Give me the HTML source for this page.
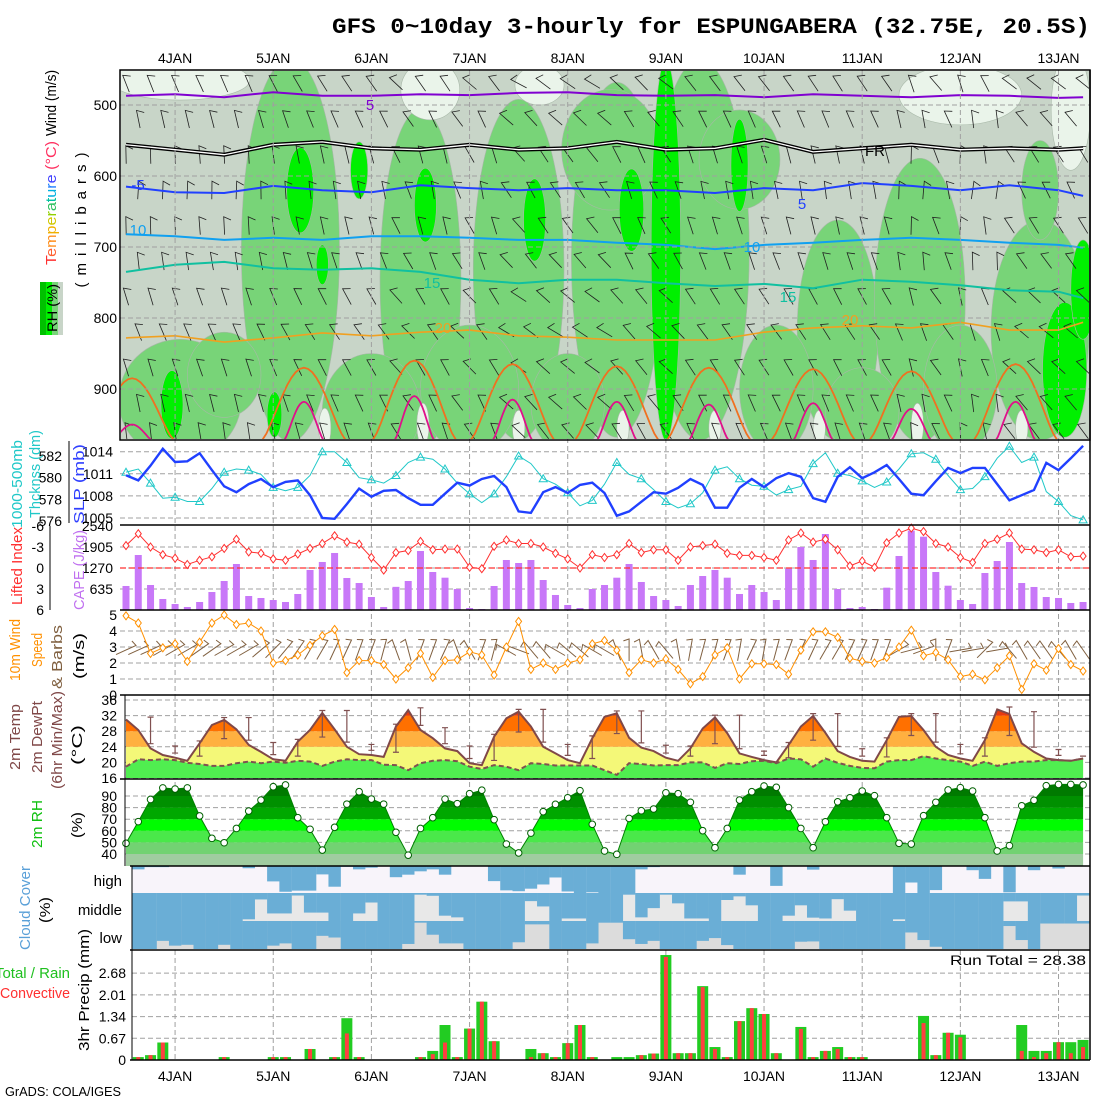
<!DOCTYPE html>
<html><head><meta charset="utf-8">
<style>
html,body{margin:0;padding:0;background:#fff;width:1100px;height:1100px;overflow:hidden}
svg{display:block;font-family:"Liberation Sans",sans-serif}
</style></head>
<body>
<svg id="chart" width="1100" height="1100" viewBox="0 0 1100 1100" xmlns="http://www.w3.org/2000/svg">
<defs>
  <clipPath id="clipP1"><rect x="121" y="71" width="968" height="368"/></clipPath>
</defs>
<text x="332" y="33" font-family="Liberation Mono, monospace" font-weight="bold" font-size="22" textLength="758" lengthAdjust="spacingAndGlyphs">GFS 0~10day 3-hourly for ESPUNGABERA (32.75E, 20.5S)</text>

<g id="p1bg" clip-path="url(#clipP1)"></g>
<g id="layer"></g>

<text transform="translate(56,103) rotate(-90)" text-anchor="middle" font-size="15" textLength="66" lengthAdjust="spacingAndGlyphs">Wind (m/s)</text>
<text transform="translate(56,203) rotate(-90)" text-anchor="middle" font-size="15" textLength="124" lengthAdjust="spacingAndGlyphs"><tspan fill="#ff3030">T</tspan><tspan fill="#ff6030">e</tspan><tspan fill="#ff9020">m</tspan><tspan fill="#f0b000">p</tspan><tspan fill="#d0c800">e</tspan><tspan fill="#90d000">r</tspan><tspan fill="#30c060">a</tspan><tspan fill="#00c0a0">t</tspan><tspan fill="#00b0e0">u</tspan><tspan fill="#2080ff">r</tspan><tspan fill="#4040ff">e</tspan><tspan fill="#ff3060"> (°C)</tspan></text>
<text transform="translate(86,220) rotate(-90)" text-anchor="middle" font-size="15" textLength="135" lengthAdjust="spacing">(millibars)</text>
<g>
  <rect x="40" y="282" width="6" height="53" fill="#00c000"/>
  <rect x="46" y="282" width="6" height="53" fill="#00f000"/>
  <rect x="52" y="282" width="6" height="53" fill="#78d478"/>
  <rect x="58" y="282" width="5" height="53" fill="#c8d5c8"/>
  <text transform="translate(57,308) rotate(-90)" text-anchor="middle" font-size="14" textLength="48" lengthAdjust="spacingAndGlyphs">RH (%)</text>
</g>
<text transform="translate(22,484) rotate(-90)" text-anchor="middle" font-size="15" fill="#20c8c8" textLength="88" lengthAdjust="spacingAndGlyphs">1000-500mb</text>
<text transform="translate(40,474) rotate(-90)" text-anchor="middle" font-size="15" fill="#20c8c8" textLength="88" lengthAdjust="spacingAndGlyphs">Thcknss (dm)</text>
<text transform="translate(84,484) rotate(-90)" text-anchor="middle" font-size="15" fill="#3040ff" textLength="80" lengthAdjust="spacingAndGlyphs">SLP (mb)</text>
<text transform="translate(22,566) rotate(-90)" text-anchor="middle" font-size="15" fill="#ff3030" textLength="78" lengthAdjust="spacingAndGlyphs">Lifted Index</text>
<text transform="translate(84,570) rotate(-90)" text-anchor="middle" font-size="15" fill="#c070f0" textLength="80" lengthAdjust="spacingAndGlyphs">CAPE (J/kg)</text>
<text transform="translate(20,650) rotate(-90)" text-anchor="middle" font-size="15" fill="#ff9000" textLength="62" lengthAdjust="spacingAndGlyphs">10m Wind</text>
<text transform="translate(42,650) rotate(-90)" text-anchor="middle" font-size="15" fill="#ff9000" textLength="34" lengthAdjust="spacingAndGlyphs">Speed</text>
<text transform="translate(62,657) rotate(-90)" text-anchor="middle" font-size="15" fill="#806040" textLength="64" lengthAdjust="spacingAndGlyphs">&amp; Barbs</text>
<text transform="translate(84,656) rotate(-90)" text-anchor="middle" font-size="15" textLength="46" lengthAdjust="spacingAndGlyphs">(m/s)</text>
<text transform="translate(20,737) rotate(-90)" text-anchor="middle" font-size="15" fill="#804848" textLength="66" lengthAdjust="spacingAndGlyphs">2m Temp</text>
<text transform="translate(42,737) rotate(-90)" text-anchor="middle" font-size="15" fill="#804848" textLength="72" lengthAdjust="spacingAndGlyphs">2m DewPt</text>
<text transform="translate(62,740) rotate(-90)" text-anchor="middle" font-size="15" fill="#804848" textLength="98" lengthAdjust="spacingAndGlyphs">(6hr Min/Max)</text>
<text transform="translate(82,745) rotate(-90)" text-anchor="middle" font-size="15" textLength="40" lengthAdjust="spacingAndGlyphs">(°C)</text>
<text transform="translate(42,824) rotate(-90)" text-anchor="middle" font-size="15" fill="#10c010" textLength="48" lengthAdjust="spacingAndGlyphs">2m RH</text>
<text transform="translate(82,825) rotate(-90)" text-anchor="middle" font-size="15" textLength="26" lengthAdjust="spacingAndGlyphs">(%)</text>
<text transform="translate(30,908) rotate(-90)" text-anchor="middle" font-size="15" fill="#5aa0d8" textLength="84" lengthAdjust="spacingAndGlyphs">Cloud Cover</text>
<text transform="translate(50,910) rotate(-90)" text-anchor="middle" font-size="15" textLength="26" lengthAdjust="spacingAndGlyphs">(%)</text>
<text x="122" y="886" text-anchor="end" font-size="15">high</text>
<text x="122" y="915" text-anchor="end" font-size="15">middle</text>
<text x="122" y="943" text-anchor="end" font-size="15">low</text>
<text transform="translate(89,990) rotate(-90)" text-anchor="middle" font-size="15" textLength="122" lengthAdjust="spacingAndGlyphs">3hr Precip (mm)</text>
<text x="70" y="978" text-anchor="end" font-size="15" fill="#20c020">Total / Rain</text>
<text x="70" y="998" text-anchor="end" font-size="15" fill="#ff3030" textLength="70" lengthAdjust="spacingAndGlyphs">Convective</text>
<text x="1086" y="965" text-anchor="end" font-size="14" textLength="136" lengthAdjust="spacingAndGlyphs">Run Total = 28.38</text>
<text x="5" y="1096" font-size="13" textLength="116" lengthAdjust="spacingAndGlyphs">GrADS: COLA/IGES</text>
</svg>
<script>
const NS='http://www.w3.org/2000/svg';
const dayLabels=['4JAN','5JAN','6JAN','7JAN','8JAN','9JAN','10JAN','11JAN','12JAN','13JAN'];
const slp=[1010.8,1010.1,1012.1,1014.4,1012.6,1012.7,1013.8,1011.5,1009.3,1008.5,1009.6,1010.3,1009.2,1009.9,1010.1,1008.1,1005.0,1004.9,1006.9,1009.0,1007.9,1008.7,1008.8,1007.7,1006.8,1006.8,1008.3,1009.8,1009.4,1010.3,1010.7,1009.2,1005.9,1005.7,1008.5,1009.2,1008.4,1009.5,1009.8,1008.4,1005.3,1005.9,1007.2,1008.5,1008.3,1009.1,1010.3,1009.5,1006.4,1006.4,1009.1,1010.3,1009.2,1010.4,1011.1,1010.6,1007.7,1007.2,1010.6,1011.9,1010.4,1011.2,1012.2,1010.3,1008.3,1008.1,1010.0,1011.8,1011.1,1011.8,1011.8,1009.6,1007.4,1008.1,1008.8,1012.5,1011.5,1013.1,1014.8];
const thick=[580.5,580.8,579.5,578.1,578.2,577.8,577.8,579.0,580.5,580.8,580.7,580.3,579.1,578.8,579.1,580.2,582.4,582.4,581.4,580.0,579.8,579.5,580.2,581.4,581.9,581.7,580.8,579.5,578.5,577.7,578.5,580.1,582.0,581.3,579.9,579.4,578.6,577.4,577.9,579.4,581.4,580.3,579.9,578.9,577.8,577.2,577.6,578.6,580.7,581.0,579.9,579.3,579.2,578.4,578.9,579.2,581.3,582.3,580.4,580.2,579.7,579.1,579.6,580.8,582.2,582.3,581.7,580.2,578.9,579.0,580.1,581.8,582.9,581.4,581.9,578.7,577.8,576.5,576.1];
const cape=[726,1663,756,333,181,91,242,544,877,1391,423,363,302,242,484,1210,1452,1724,968,816,393,91,700,877,1784,1149,977,635,60,30,726,1512,1421,1512,907,454,151,60,635,756,977,1391,847,423,302,121,756,1028,1210,977,484,756,544,302,1250,1905,1512,2298,635,60,91,30,675,1633,2400,2217,1149,735,302,181,1119,1482,2056,816,696,393,363,212,242];
const li=[-3.2,-4.9,-3.0,-1.9,-1.4,-0.5,-1.1,-1.6,-2.8,-4.1,-2.3,-2.1,-1.3,-1.1,-2.0,-2.8,-3.5,-4.6,-3.7,-3.4,-1.5,0.3,-2.2,-2.5,-3.8,-2.6,-2.7,-2.7,-0.1,0.1,-3.1,-4.0,-3.5,-3.5,-3.0,-2.1,-1.3,0.0,-1.9,-1.5,-1.9,-3.5,-2.2,-2.6,-2.6,-1.1,-3.0,-3.2,-3.4,-2.1,-1.8,-1.8,-1.5,-1.1,-4.0,-5.0,-3.7,-4.1,-2.6,-0.3,-1.0,-0.1,-3.6,-5.0,-5.7,-5.2,-3.5,-3.0,-1.5,-0.8,-3.5,-4.1,-5.0,-2.7,-2.6,-2.2,-2.6,-1.6,-1.7];
const wspd=[4.95,4.5,2.6,2.95,3.2,2.1,3.3,4.5,5.0,4.4,4.5,4.0,2.0,2.15,2.5,3.1,3.7,4.1,1.4,2.15,2.15,1.9,1.0,1.7,2.6,1.1,2.15,2.2,2.7,2.5,1.25,3.0,4.6,1.6,2.0,1.6,2.0,2.2,3.2,3.4,2.8,1.4,2.2,2.0,2.25,1.6,0.7,1.15,2.5,2.95,1.0,1.95,1.95,1.9,1.3,2.8,3.95,3.95,3.6,2.3,2.1,2.0,2.35,3.0,4.05,2.45,2.65,2.2,1.15,1.3,0.95,1.7,2.45,0.35,1.95,1.55,2.9,1.9,1.5];
const wdir=[25,25,25,30,30,30,35,35,30,30,30,40,45,50,55,60,60,65,65,70,70,75,110,105,70,70,65,110,120,70,75,150,160,130,130,150,140,140,150,150,110,90,100,120,130,100,80,75,75,70,80,65,80,75,70,65,65,60,60,65,65,70,70,30,15,20,90,70,10,10,45,10,130,120,125,125,130,120,125];
const temp=[31.0,28.3,23.6,21.9,21.2,20.4,24.9,29.6,30.9,28.5,24.5,22.7,20.8,20.4,25.3,28.3,32.7,28.5,24.0,22.1,21.9,21.4,29.2,33.4,28.3,26.2,23.6,22.9,19.8,19.3,26.6,31.3,33.0,29.2,24.0,22.3,20.6,19.8,26.2,31.7,32.6,26.3,23.8,22.9,21.2,20.4,23.6,28.7,31.5,27.5,22.3,21.4,20.6,20.0,24.5,29.2,31.9,27.6,22.9,21.4,20.4,20.2,25.7,31.7,31.9,28.3,24.0,21.9,21.0,20.4,25.7,33.6,32.4,24.9,22.7,21.0,20.6,20.4,21.0];
const dew=[18.9,20.8,20.6,20.8,20.6,19.9,19.6,19.1,19.1,19.8,20.2,19.8,20.2,19.9,20.4,20.2,19.1,20.2,20.8,20.6,20.6,19.4,19.3,18.0,19.8,20.4,20.6,20.3,18.9,18.3,19.3,18.9,18.0,19.8,19.6,19.2,19.2,19.2,19.2,18.0,16.8,19.8,19.6,19.2,19.3,19.3,20.0,20.0,18.6,19.8,19.6,20.3,20.4,19.8,21.0,20.8,18.9,21.0,19.9,19.1,18.6,18.5,20.2,20.6,20.6,21.6,21.0,20.6,20.2,19.1,20.2,19.1,19.8,20.2,20.2,20.6,20.6,20.4,21.0];
const rh=[49.2,67.9,87.0,97.0,96.0,97.0,72.8,53.5,49.7,62.0,77.0,86.5,98.0,99.5,71.3,61.3,43.4,63.0,83.0,93.7,87.4,83.0,58.7,39.0,62.0,71.3,87.4,83.4,92.0,95.0,69.6,48.6,40.9,58.0,76.5,82.8,88.5,94.6,65.6,42.6,39.7,70.7,77.3,78.8,92.8,92.0,84.6,60.1,45.4,62.0,86.5,93.7,98.6,97.5,80.0,62.0,45.4,67.8,85.0,88.5,94.3,90.3,71.3,49.2,48.6,73.0,84.6,95.2,97.2,94.3,71.3,42.6,47.2,81.6,86.3,98.9,100,100,99.5];
const cloudHigh=[12,4,4,0,0,0,0,0,0,8,0,55,92,88,88,30,74,3,12,6,0,40,31,19,12,31,0,0,0,54,87,90,81,66,41,91,100,94,100,100,100,12,4,0,0,0,0,0,0,31,0,0,71,0,0,13,0,0,0,0,0,0,100,59,100,86,0,0,15,46,0,94,0,15,0,9,0,0];
const cloudMid=[100,100,100,100,100,100,100,100,100,94,23,73,73,9,70,70,100,100,73,34,100,100,100,6,10,81,87,100,100,100,100,100,29,48,100,91,91,100,100,100,6,87,54,6,37,91,91,100,25,12,44,100,100,81,44,88,91,22,63,100,100,100,94,100,100,100,100,100,100,100,100,30,30,100,100,100,100,9];
const cloudLow=[100,100,71,88,85,100,100,85,100,100,100,88,80,100,100,53,59,100,100,100,100,100,82,6,49,80,80,100,100,100,100,76,12,12,100,100,100,80,6,6,65,82,71,100,100,100,71,61,86,100,100,100,100,100,74,73,100,100,100,100,100,100,100,41,68,92,100,100,100,100,100,18,68,100,9,9,9,9];
const precipTot=[.09,.15,.54,0,0,0,0,.09,0,0,0,.09,.09,0,.34,0,.09,1.29,.09,0,0,0,0,.09,.28,1.08,.09,.97,1.8,.58,0,0,.34,.21,.09,.52,1.08,.09,0,.09,.09,.15,.2,3.24,.21,.21,2.28,.4,.09,1.2,1.6,1.42,.21,0,1.02,.09,.28,.4,.09,.09,0,0,0,0,1.36,.15,.84,.78,0,0,0,0,1.08,.28,.28,.55,.55,.62];
const precipConv=[.09,.15,.54,0,0,0,0,.09,0,0,0,.09,.09,0,.34,0,.09,.82,.09,0,0,0,0,.09,.18,.54,.09,.97,1.8,.58,0,0,.09,.21,.09,.52,1.08,.09,0,0,0,.15,.2,3.18,.21,.21,2.25,.34,.09,1.2,1.6,1.42,.21,0,.96,.09,.28,.34,.09,.09,0,0,0,0,1.14,.15,.84,.7,0,0,0,0,.28,.09,.21,.55,.21,.4];
const isoMinus10=[487,485,489,482,487,487,485,486,483,482,486,487,486,489,485,487,489,486,487,490,489];
const isoFreeze=[556,563,570,556,552,561,563,556,563,561,552,563,561,549,566,561,556,563,561,563,561];
const isoPlus5=[615,623,624,614,620,623,613,617,620,617,620,620,624,617,620,610,614,620,613,620,628];
const isoPlus10=[682,685,690,687,690,685,685,687,690,690,694,697,703,697,694,690,687,690,694,697,701];
const isoPlus15=[735,725,721,730,732,730,735,746,751,746,746,751,755,752,758,746,749,754,761,763,772];
const isoPlus20=[828,825,834,828,821,825,820,817,825,827,831,831,831,820,814,811,814,806,817,817,806];
const arch25Center=[0.5,14.5,23.5,31.5,40,47.5,56,64,72.5];
const arch25Top=[885,870,860,865,868,870,872,875,865];
const arch30Top=[950,918,910,915,918,922,920,928,918];
const barbLevels=[470,520,570,620,670,720,770,820,870,920,960];
const barbLevelDir=[125,115,105,100,105,110,120,125,120,115,110];
const rhMoist=[[13.4,704,4,270],[4.4,915,5,85],[24,746,3.3,240],[32,732,3.7,240],[40,718,3.7,250],[46.8,704,4,268],[58,817,3.3,155],[64.7,775,3.7,200],[74.5,817,4,155],[39.5,563,4,85],[50,577,3.3,70],[74.5,620,1.5,70],[20,930,4,80],[28,900,4,90],[36,920,3,70],[53,900,3,90],[60,930,3,60],[68,900,3,90],[8,880,3,60]];
const rhWet=[[14.2,620,1.1,60],[16,725,0.5,28],[19,592,0.7,40],[24.4,641,0.9,52],[33.3,662,0.9,58],[41.2,648,1,58],[44,704,1.2,268],[50,585,0.7,65],[76.5,873,1.8,95],[3.75,922,0.9,48],[12.1,936,0.6,32],[78,760,1,70]];
const rhDry=[[4.4,465,5.7,28],[24.8,479,2.4,42],[33.7,472,2,28],[68,486,5,42],[77,507,1.6,85],[16.2,955,0.5,28],[24.2,950,0.5,30],[32,955,0.5,25],[40.5,955,0.5,25],[48,955,0.5,25],[56.5,955,0.5,25],[64.5,950,0.5,30],[73,955,0.5,25]];

const slpTicks=[1005,1008,1011,1014], thickTicks=[576,578,580,582], capeTicks=[0,635,1270,1905,2540], liTicks=[-6,-3,0,3,6], wTicks=[0,1,2,3,4,5], tTicks=[16,20,24,28,32,36], rhTicks=[40,50,60,70,80,90], pTicks=[0,0.67,1.34,2.01,2.68], presTicks=[500,600,700,800,900];

const X=i=>126+12.27*i;
const ySLP=v=>451.7+(1014-v)*7.37;
const yThk=v=>456+(582-v)*10.83;
const yCape=v=>610-v*21/635;
const yLI=v=>568+v*7;
const yW=v=>695-v*16;
const yT=v=>778-(v-16)*3.9;
const yRH=v=>854-(v-40)*1.16;
const yPr=v=>1060-v*32.4;
const yPres=p=>105+(p-500)*0.71;

const root=document.getElementById('layer');
const p1=document.getElementById('p1bg');
function mk(tag,attrs,parent){const e=document.createElementNS(NS,tag);for(const k in attrs)e.setAttribute(k,attrs[k]);(parent||root).appendChild(e);return e;}
function txt(s,attrs,parent){const e=mk('text',attrs,parent);e.textContent=s;return e;}
function poly(pts){return pts.map(p=>p[0].toFixed(1)+','+p[1].toFixed(1)).join(' ');}

let e;
e=mk('rect',{x:120,y:70,width:970,height:370,fill:'#c8d5c8'},p1);


function blobs(list,fill,name){list.forEach(b=>{const cx=X(b[0]),cy=yPres(b[1]);const rx=b[2]*12.27,ry=b[3]*0.71;
 const el=mk('ellipse',{cx:cx,cy:cy,rx:rx,ry:ry,fill:fill,stroke:'#a8b8a8','stroke-width':0.6},p1);
 
 });}
blobs(rhMoist,'#78d478','rh-moist-area');
blobs(rhDry,'#eaf4ea','rh-dry-area');
blobs(rhWet,'#00f000','rh-saturated-area');

barbLevels.forEach((p,li_)=>{for(let i=li_%2;i<79;i+=2){const a=(barbLevelDir[li_]+(wdir[i]-70)*0.3)*Math.PI/180;const x=X(i),y=yPres(p);
 const x1=x-9*Math.cos(a),y1=y+9*Math.sin(a),x2=x+9*Math.cos(a),y2=y-9*Math.sin(a);
 const b=a-Math.PI*0.65;
 const el=mk('path',{d:`M${x1.toFixed(1)},${y1.toFixed(1)}L${x2.toFixed(1)},${y2.toFixed(1)}L${(x2+8*Math.cos(b)).toFixed(1)},${(y2-8*Math.sin(b)).toFixed(1)}`,stroke:'#202020','stroke-width':0.8,fill:'none'},p1);
 
 }});

function isoPath(arr){return arr.map((p,k)=>(k?'L':'M')+X(Math.min(k*4,78)).toFixed(1)+','+yPres(p).toFixed(1)).join('');}
[[isoMinus10,'#8000d0',2,'isotherm-minus5'],[isoPlus5,'#2040ff',2,'isotherm-5'],[isoPlus10,'#10a0f0',2,'isotherm-10'],[isoPlus15,'#10c0a0',2,'isotherm-15'],[isoPlus20,'#f0a020',1.6,'isotherm-20']].forEach(c=>{
 const el=mk('path',{d:isoPath(c[0]),stroke:c[1],'stroke-width':c[2],fill:'none'},p1);
 
 });
e=mk('path',{d:isoPath(isoFreeze),stroke:'#000','stroke-width':4,fill:'none'},p1);


e=mk('path',{d:isoPath(isoFreeze),stroke:'#fff','stroke-width':1.3,fill:'none'},p1);


function arch(c,top,w){let d='';for(let k=0;k<=20;k++){const f=-1+k/10;const t=c+f*w;const p=972-(972-top)*Math.pow(Math.cos(f*Math.PI/2),1.3);d+=(k?'L':'M')+X(t).toFixed(1)+','+yPres(p).toFixed(1);}return d;}
arch25Center.forEach((c,k)=>{
 const el=mk('path',{d:arch(c,arch25Top[k],3.4),stroke:'#f07020','stroke-width':1.8,fill:'none'},p1);
 
 
 const el2=mk('path',{d:arch(c,arch30Top[k],1.6),stroke:'#e0108a','stroke-width':1.8,fill:'none'},p1);
 
 });

for(let d=0;d<10;d++){const x=X(4+8*d);
 e=mk('line',{x1:x,y1:70,x2:x,y2:1060,stroke:'#a0a0a0','stroke-dasharray':'5,3','stroke-width':1});
 
 
 e=txt(dayLabels[d],{x:x,y:63,'text-anchor':'middle','font-size':14});
 
 
 e=txt(dayLabels[d],{x:x,y:1081,'text-anchor':'middle','font-size':14});
 
 }
function hgrid(vals,fy,x0,labX,name,fmt,color){vals.forEach(v=>{const y=fy(v);
 const g=mk('line',{x1:x0,y1:y,x2:1090,y2:y,stroke:'#a0a0a0','stroke-dasharray':'5,3','stroke-width':1});
 
 
 if(labX){const t=txt(fmt?fmt(v):String(v),{x:labX,y:y+5,'text-anchor':'end','font-size':14,fill:color||'#000'});
 
 }});}
hgrid(presTicks,yPres,120,117,'pressure');
hgrid(slpTicks,ySLP,120,113,'slp');
thickTicks.forEach(v=>{const t=txt(String(v),{x:62,y:yThk(v)+5,'text-anchor':'end','font-size':14});
 
 });
hgrid(capeTicks.slice(1,4),yCape,120,113,'cape');
e=txt('2540',{x:113,y:531,'text-anchor':'end','font-size':14});


liTicks.forEach(v=>{const t=txt(String(v),{x:44,y:yLI(v)+5,'text-anchor':'end','font-size':14});
 
 });
hgrid([1,2,3,4],yW,120,117,'wind-speed');
[0,5].forEach(v=>{const t=txt(String(v),{x:117,y:yW(v)+5,'text-anchor':'end','font-size':14});});
hgrid(tTicks,yT,125,117,'temp');
hgrid(rhTicks,yRH,125,117,'rh');
hgrid(pTicks,yPr,132,126,'precip',v=>v===0?'0':v.toFixed(2));
[[69,441,523],[50,526,610]].forEach(a=>{e=mk('line',{x1:a[0],y1:a[1],x2:a[0],y2:a[2],stroke:'#000','stroke-width':1});});

e=mk('polyline',{points:poly(thick.map((v,i)=>[X(i),yThk(v)])),fill:'none',stroke:'#20c8c8','stroke-width':1});


thick.forEach((v,i)=>{if(i%2===0){const x=X(i),y=yThk(v);
 const m=mk('polygon',{points:poly([[x,y-4],[x-4,y+3],[x+4,y+3]]),fill:'none',stroke:'#20c8c8','stroke-width':1});
 
 }});
e=mk('polyline',{points:poly(slp.map((v,i)=>[X(i),ySLP(v)])),fill:'none',stroke:'#2040ff','stroke-width':2.4});



cape.forEach((v,i)=>{const y=yCape(v);
 const b=mk('rect',{x:X(i)-3.5,y:y,width:7,height:610-y,fill:'#c878f8'});
 
 });
e=mk('line',{x1:120,y1:yLI(0),x2:1090,y2:yLI(0),stroke:'#ff3030','stroke-dasharray':'6,3','stroke-width':1.3});


e=mk('polyline',{points:poly(li.map((v,i)=>[X(i),yLI(v)])),fill:'none',stroke:'#ff3030','stroke-width':1});


li.forEach((v,i)=>{const x=X(i),y=yLI(v);
 const m=mk('polygon',{points:poly([[x,y-4],[x+3,y],[x,y+4],[x-3,y]]),fill:'#fff',stroke:'#ff3030','stroke-width':1});
 
 });

wdir.forEach((a0,i)=>{const a=a0*Math.PI/180;const x=X(i),y=650;
 const x1=x-11*Math.cos(a),y1=y+11*Math.sin(a),x2=x+11*Math.cos(a),y2=y-11*Math.sin(a);
 const b=a+Math.PI*0.6;
 const m=mk('path',{d:`M${x1.toFixed(1)},${y1.toFixed(1)}L${x2.toFixed(1)},${y2.toFixed(1)}L${(x2+6*Math.cos(b)).toFixed(1)},${(y2-6*Math.sin(b)).toFixed(1)}`,stroke:'#806040','stroke-width':1,fill:'none'});
 
 });
e=mk('polyline',{points:poly(wspd.map((v,i)=>[X(i),yW(v)])),fill:'none',stroke:'#ff9000','stroke-width':1});


wspd.forEach((v,i)=>{const x=X(i),y=yW(v);
 const m=mk('polygon',{points:poly([[x,y-4],[x+3,y],[x,y+4],[x-3,y]]),fill:'#fff',stroke:'#ff9000','stroke-width':1});
 
 });

const defs=document.querySelector('defs');
const cpT=mk('clipPath',{id:'clipT'},defs);
mk('polygon',{points:poly([[X(0),778]].concat(temp.map((v,i)=>[X(i),yT(v)])).concat([[X(78),778]]))},cpT);
const gT=mk('g',{'clip-path':'url(#clipT)'});


[[16,24,'#f4f878'],[24,28,'#ffb040'],[28,32,'#ff7000'],[32,40,'#e83a10']].forEach(bd=>{
 const r=mk('rect',{x:120,y:yT(bd[1]),width:970,height:yT(bd[0])-yT(bd[1]),fill:bd[2]},gT);
 
 });
e=mk('polygon',{points:poly([[X(0),778]].concat(dew.map((v,i)=>[X(i),yT(v)])).concat([[X(78),778]])),fill:'#50ee50'});


temp.forEach((v,i)=>{if(i>=2&&i%2===0){const w=temp.slice(i-2,i+1);const hi=Math.max(...w)+0.6,lo=Math.min(...w)+1.2;const x=X(i);
 const m=mk('path',{d:`M${x},${yT(hi)}L${x},${yT(lo)}M${x-3},${yT(hi)}L${x+3},${yT(hi)}M${x-3},${yT(lo)}L${x+3},${yT(lo)}`,stroke:'#805050','stroke-width':1.2,fill:'none'});
 
 }});
e=mk('polyline',{points:poly(temp.map((v,i)=>[X(i),yT(v)])),fill:'none',stroke:'#804848','stroke-width':2});


e=mk('polyline',{points:poly(dew.map((v,i)=>[X(i),yT(v)])),fill:'none',stroke:'#805050','stroke-width':2,'stroke-dasharray':'5,3'});



const cpR=mk('clipPath',{id:'clipR'},defs);
mk('polygon',{points:poly([[X(0),866]].concat(rh.map((v,i)=>[X(i),yRH(v)])).concat([[X(78),866]]))},cpR);
const gR=mk('g',{'clip-path':'url(#clipR)'});


[[0,40,'#a0cca0'],[40,50,'#72d272'],[50,60,'#4ae84a'],[60,70,'#00fc00'],[70,80,'#00a800'],[80,90,'#009000'],[90,110,'#007a00']].forEach(bd=>{
 const r=mk('rect',{x:120,y:yRH(bd[1]),width:970,height:yRH(bd[0])-yRH(bd[1]),fill:bd[2]},gR);
 
 });
e=mk('polyline',{points:poly(rh.map((v,i)=>[X(i),yRH(v)])),fill:'none',stroke:'#008000','stroke-width':1});


rh.forEach((v,i)=>{const m=mk('circle',{cx:X(i),cy:yRH(v),r:3.3,fill:'#fff',stroke:'#006000','stroke-width':1});
 
 });

[[cloudHigh,866,'#f8f4fa','cloud-high'],[cloudMid,893,'#e8e8e8','cloud-middle'],[cloudLow,921,'#dcdcdc','cloud-low']].forEach(c=>{
 const bg=mk('rect',{x:X(0.5),y:c[1],width:X(78.5)-X(0.5),height:28,fill:c[2]});
 
 
 c[0].forEach((v,k)=>{const i=k+1;const h=v/100*28;if(h<=0)return;
  const r=mk('rect',{x:X(i-0.5),y:c[1],width:12.4,height:h,fill:'#6aaed6'});
  
  });});

precipTot.forEach((v,k)=>{const i=k+1;if(v<=0)return;
 const r=mk('rect',{x:X(i)-5.5,y:yPr(v),width:11,height:1060-yPr(v),fill:'#22cc22'});
 
 });
precipConv.forEach((v,k)=>{const i=k+1;if(v<=0)return;
 const r=mk('rect',{x:X(i)-2,y:yPr(v),width:4,height:1060-yPr(v),fill:'#ff4040'});
 
 });

[['5',370,110,'#8000d0'],['-5',138,190,'#2040ff'],['5',802,209,'#2040ff'],['10',138,235,'#10a0f0'],['10',752,252,'#10a0f0'],['15',432,288,'#10c0a0'],['15',788,302,'#10c0a0'],['20',443,333,'#f0a020'],['20',850,325,'#f0a020'],['FR',875,156,'#000']].forEach(l=>{
 const t=txt(l[0],{x:l[1],y:l[2],'text-anchor':'middle','font-size':15,fill:l[3]});
 
 });

e=mk('rect',{x:120,y:70,width:970,height:370,fill:'none',stroke:'#000','stroke-width':1.5});


[525,610,695,779,866,950,1060].forEach(y=>{const l=mk('line',{x1:y>=866?130:120,y1:y,x2:1090,y2:y,stroke:'#000','stroke-width':1.5});
 
 });
e=mk('line',{x1:1090,y1:70,x2:1090,y2:1060,stroke:'#000','stroke-width':1.5});


[[125,695,866],[132,866,1060]].forEach(a=>{const l=mk('line',{x1:a[0],y1:a[1],x2:a[0],y2:a[2],stroke:'#000','stroke-width':1});
 
 });
</script>
</body></html>
